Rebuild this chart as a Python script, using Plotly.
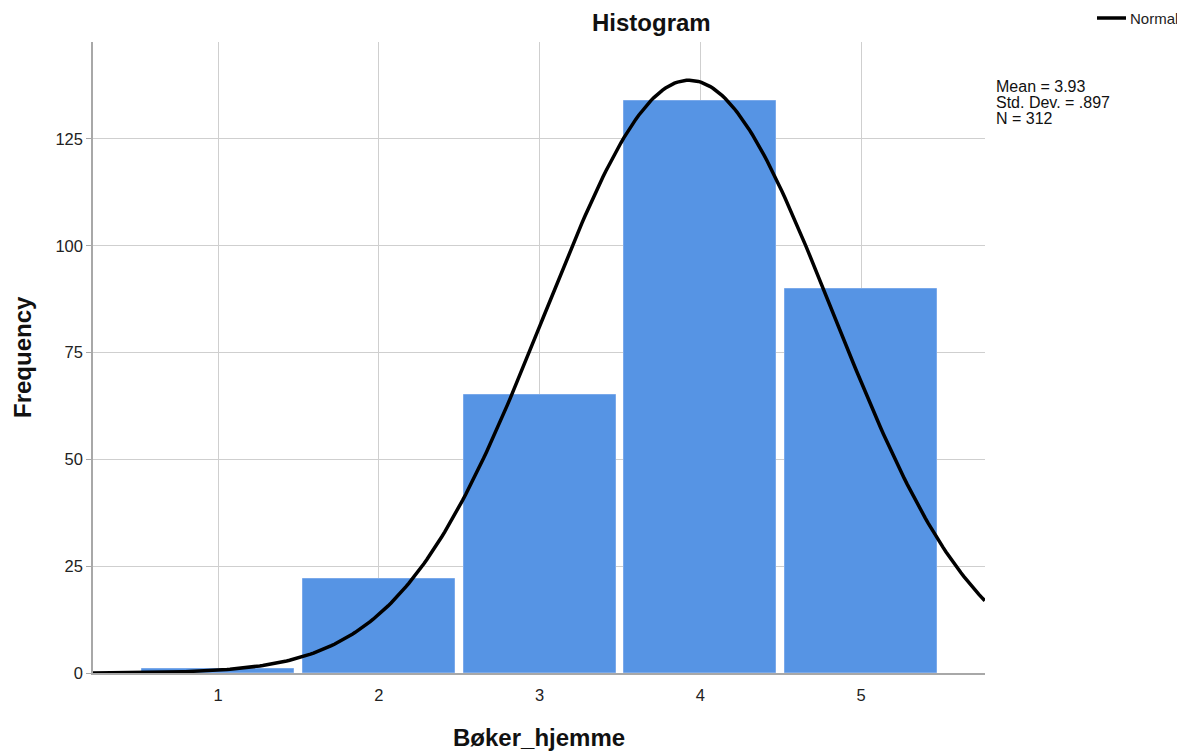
import numpy as np
import plotly.graph_objects as go

categories = [1, 2, 3, 4, 5]
counts = [1, 22, 65, 134, 90]
mean_val = 3.93
sd_val = 0.897
n_val = 312
y_ticks = [0, 25, 50, 75, 100, 125]
stats_lines = [f"Mean = {mean_val:.2f}", "Std. Dev. = .897", f"N = {n_val}"]

xs = np.linspace(0.22, 5.77, 300)
ys = n_val * np.exp(-0.5 * ((xs - mean_val) / sd_val) ** 2) / (sd_val * np.sqrt(2 * np.pi))

OFF = 8  # page body offset
W, H = 1185, 753
L, R, T, B = 93 - OFF, 985 - OFF, 42 - OFF, 673 - OFF
PW, PH = R - L, B - T

def px(xp):
    return (xp - OFF - L) / PW

def py(yp):
    return (B - (yp - OFF)) / PH

fig = go.Figure()
fig.add_trace(go.Bar(x=categories, y=counts, width=0.946,
                     marker=dict(color="#5694E4", line=dict(color="#7AA9EA", width=1)),
                     showlegend=False, hoverinfo="x+y"))
fig.add_trace(go.Scatter(x=xs, y=ys, mode="lines", name="Normal", showlegend=False,
                         line=dict(color="black", width=3.5)))

fig.update_layout(
    width=W, height=H,
    margin=dict(l=L, r=W - R, t=T, b=H - B, autoexpand=False),
    plot_bgcolor="white", paper_bgcolor="white",
    font=dict(family="Liberation Sans, Arial", color="#222"),
    bargap=0,
    showlegend=False,
    xaxis=dict(range=[0.222, 5.771], tickvals=categories, ticktext=[str(c) for c in categories],
               showgrid=True, gridcolor="#CFCFCF", gridwidth=1.2, automargin=False,
               showline=True, linecolor="#A8A8A8", linewidth=1.5,
               ticks="outside", ticklen=6, tickcolor="rgba(0,0,0,0)",
               tickfont=dict(size=16.5, color="#222"), zeroline=False),
    yaxis=dict(range=[0, 147.7], tickvals=y_ticks, automargin=False,
               showgrid=True, gridcolor="#CFCFCF", gridwidth=1.2,
               showline=True, linecolor="#A8A8A8", linewidth=1.5,
               ticks="outside", ticklen=5, tickcolor="#A8A8A8",
               tickfont=dict(size=16.5, color="#222"), zeroline=False),
)

# title
fig.add_annotation(xref="paper", yref="paper", x=px(651), y=py(23), xanchor="center", yanchor="middle",
                   showarrow=False, text="<b>Histogram</b>", font=dict(size=24, color="#111"))
# axis titles
fig.add_annotation(xref="paper", yref="paper", x=px(539), y=py(737), xanchor="center", yanchor="middle",
                   showarrow=False, text="<b>Bøker_hjemme</b>", font=dict(size=24, color="#111"))
fig.add_annotation(xref="paper", yref="paper", x=px(22), y=py(357), xanchor="center", yanchor="middle",
                   showarrow=False, text="<b>Frequency</b>", textangle=-90, font=dict(size=24, color="#111"))
# legend
fig.add_shape(type="line", xref="paper", yref="paper", x0=px(1097), x1=px(1126), y0=py(18), y1=py(18),
              line=dict(color="black", width=3.5))
fig.add_annotation(xref="paper", yref="paper", x=px(1128), y=py(19), xanchor="left", yanchor="middle",
                   showarrow=False, text="Normal", font=dict(size=15, color="#222"))
# stats
for i, s in enumerate(stats_lines):
    fig.add_annotation(xref="paper", yref="paper", x=px(994), y=py(86 + 16.5 * i), xanchor="left",
                       yanchor="middle", showarrow=False, text=s, font=dict(size=16, color="#111"))

fig.write_html("out.html", default_width="1185px", default_height="753px")
